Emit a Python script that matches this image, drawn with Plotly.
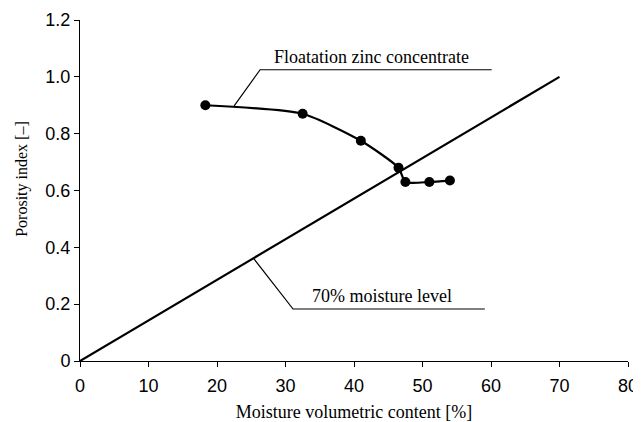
import plotly.graph_objects as go

# Data
zinc_x = [18.3, 32.5, 41.0, 46.5, 47.5, 51.0, 54.0]
zinc_y = [0.90, 0.87, 0.775, 0.68, 0.63, 0.63, 0.635]
level_x = [0, 70]
level_y = [0.0, 1.0]
x_ticks = [0, 10, 20, 30, 40, 50, 60, 70, 80]
y_ticks = [0, 0.2, 0.4, 0.6, 0.8, 1.0, 1.2]
y_tick_labels = ["0", "0.2", "0.4", "0.6", "0.8", "1.0", "1.2"]

# Label leader lines (x, y)
zinc_leader_x = [22.5, 26.3, 60.1]
zinc_leader_y = [0.898, 1.025, 1.025]
level_leader_x = [25.4, 31.1, 59.1]
level_leader_y = [0.359, 0.183, 0.183]

fig = go.Figure()
fig.add_trace(go.Scatter(x=level_x, y=level_y, mode="lines",
                         line=dict(color="black", width=2.2), showlegend=False))
fig.add_trace(go.Scatter(x=zinc_x, y=zinc_y, mode="lines+markers",
                         line=dict(color="black", width=2.2, shape="spline", smoothing=0.6),
                         marker=dict(color="black", size=10), showlegend=False))
fig.add_trace(go.Scatter(x=zinc_leader_x, y=zinc_leader_y, mode="lines",
                         line=dict(color="black", width=1.2), showlegend=False))
fig.add_trace(go.Scatter(x=level_leader_x, y=level_leader_y, mode="lines",
                         line=dict(color="black", width=1.2), showlegend=False))

fig.add_annotation(x=42.6, y=1.025, text="Floatation zinc concentrate",
                   showarrow=False, yanchor="bottom", yshift=1,
                   font=dict(family="Liberation Serif", size=18, color="black"))
fig.add_annotation(x=44.1, y=0.183, text="70% moisture level",
                   showarrow=False, yanchor="bottom", yshift=1,
                   font=dict(family="Liberation Serif", size=18, color="black"))
fig.add_annotation(xref="paper", yref="paper", x=-0.106, y=0.534,
                   text="Porosity index [–]", textangle=-90, showarrow=False,
                   xanchor="center", yanchor="middle",
                   font=dict(family="Liberation Serif", size=16, color="black"))

# The page body has an 8px default margin, so the figure is sized to fit.
fig.update_layout(
    width=633, height=414,
    margin=dict(l=72, r=13, t=12, b=61),
    plot_bgcolor="white", paper_bgcolor="white",
    font=dict(family="Liberation Sans", size=18, color="black"),
)
fig.update_xaxes(range=[0, 80], tickvals=x_ticks, showgrid=False, zeroline=False,
                 automargin=False,
                 showline=True, linecolor="black", linewidth=1,
                 ticks="outside", ticklen=5, tickcolor="black", ticklabelstandoff=3,
                 title=dict(text="Moisture volumetric content [%]",
                            font=dict(family="Liberation Serif", size=18), standoff=11))
fig.update_yaxes(range=[0, 1.2], tickvals=y_ticks, ticktext=y_tick_labels,
                 showgrid=False, zeroline=False, automargin=False,
                 showline=True, linecolor="black", linewidth=1,
                 ticks="outside", ticklen=5, tickcolor="black")

fig.write_html("out.html")
